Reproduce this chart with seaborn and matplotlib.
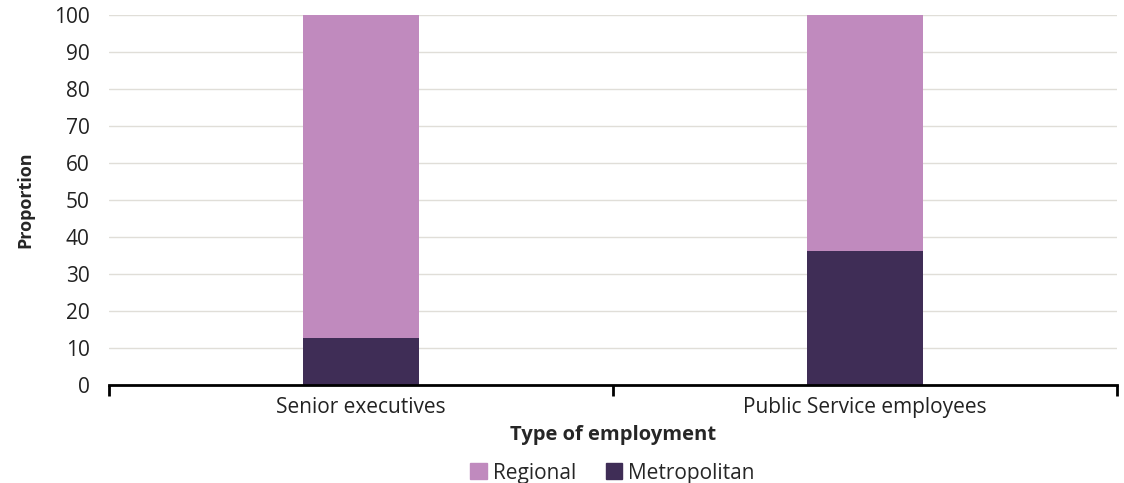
import numpy as np
import pandas as pd
import matplotlib
matplotlib.use("Agg")
import matplotlib.pyplot as plt
import seaborn as sns
from matplotlib.patches import Patch

# Data
categories = ["Senior executives", "Public Service employees"]
metropolitan = [12.7, 36.2]
regional = [87.3, 63.8]

df = pd.DataFrame({
    "category": categories,
    "Metropolitan": metropolitan,
    "Regional": regional,
})
df["total"] = df["Metropolitan"] + df["Regional"]

col_regional = "#C08ABE"
col_metro = "#3F2D56"

sns.set_style("white")
plt.rcParams["font.family"] = ["Open Sans", "DejaVu Sans"]

fig = plt.figure(figsize=(11.24, 4.83), dpi=100)
ax = fig.add_axes([0.097, 0.203, 0.8968, 0.766])

# stacked bars: total (regional on top) then metropolitan at the base
sns.barplot(data=df, x="category", y="total", color=col_regional, width=0.23,
            saturation=1, linewidth=0, ax=ax)
sns.barplot(data=df, x="category", y="Metropolitan", color=col_metro, width=0.23,
            saturation=1, linewidth=0, ax=ax)

ax.set_xlim(-0.5, 1.5)
ax.set_ylim(0, 100)
ax.set_yticks(np.arange(0, 101, 10))
ax.yaxis.grid(True, color="#E0DED8", linewidth=1)
ax.set_axisbelow(True)

for s in ["top", "right", "left"]:
    ax.spines[s].set_visible(False)
ax.spines["bottom"].set_color("black")
ax.spines["bottom"].set_linewidth(2)

ax.tick_params(axis="y", length=0, labelsize=15, pad=14, colors="#222222")
ax.tick_params(axis="x", which="major", length=0, labelsize=15, pad=9,
               colors="#222222")
ax.set_xticks([-0.5, 0.5, 1.5], minor=True)
ax.tick_params(axis="x", which="minor", bottom=True, length=8, width=2,
               direction="out", color="black")

ax.set_xlabel("Type of employment", fontsize=14.5, fontweight="bold", labelpad=5)
ax.set_ylabel("Proportion", fontsize=13, fontweight="bold", labelpad=14)

handles = [Patch(color=col_regional, label="Regional"),
           Patch(color=col_metro, label="Metropolitan")]
fig.legend(handles=handles, loc="lower center", ncol=2, frameon=False,
           fontsize=15, bbox_to_anchor=(0.545, -0.04), handlelength=0.8,
           handleheight=0.8, handletextpad=0.3, columnspacing=1.4)

fig.savefig("out.png", dpi=100)
